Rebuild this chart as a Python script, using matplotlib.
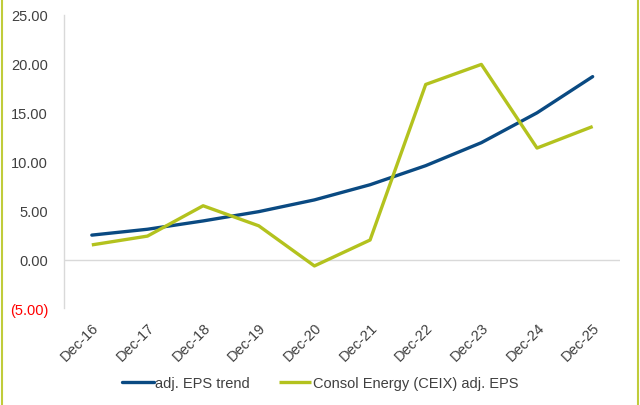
import matplotlib
matplotlib.use("Agg")
import matplotlib.pyplot as plt
from matplotlib.lines import Line2D

plt.rcParams['font.family'] = ['Liberation Sans', 'DejaVu Sans']

categories = ["Dec-16", "Dec-17", "Dec-18", "Dec-19", "Dec-20",
              "Dec-21", "Dec-22", "Dec-23", "Dec-24", "Dec-25"]
eps_trend = [2.5, 3.1, 3.95, 4.9, 6.1, 7.65, 9.6, 11.95, 15.0, 18.7]
ceix_eps = [1.5, 2.4, 5.5, 3.45, -0.65, 2.0, 17.9, 19.95, 11.4, 13.6]
yticks = [-5, 0, 5, 10, 15, 20, 25]
ytick_labels = ["(5.00)", "0.00", "5.00", "10.00", "15.00", "20.00", "25.00"]

BLUE = "#0A4A82"
GREEN = "#B3C21E"
TXT = "#404040"

fig = plt.figure(figsize=(6.4, 4.06), dpi=100)
ax = fig.add_axes([0.1, 0.2377, 0.8695, 0.7229])

x = list(range(len(categories)))
ax.plot(x, eps_trend, color=BLUE, lw=2.4, label="adj. EPS trend", solid_capstyle='round', zorder=3)
ax.plot(x, ceix_eps, color=GREEN, lw=2.4, label="Consol Energy (CEIX) adj. EPS", solid_capstyle='butt', zorder=3)

ax.axhline(0, color="#D9D9D9", lw=1.0, zorder=1)
ax.set_xlim(-0.5, len(categories) - 0.5)
ax.set_ylim(-5, 25)
ax.set_yticks(yticks)
ax.set_yticklabels(ytick_labels)
for lbl, v in zip(ax.get_yticklabels(), yticks):
    lbl.set_color("red" if v < 0 else TXT)
    lbl.set_fontsize(10.5)
ax.tick_params(axis='y', length=0, pad=11.5)
ax.set_xticks(x)
ax.set_xticklabels(categories, rotation=45, ha='right', rotation_mode='anchor',
                   fontsize=10.5, color=TXT)
ax.tick_params(axis='x', length=0, pad=8)

for s in ['top', 'right', 'bottom']:
    ax.spines[s].set_visible(False)
ax.spines['left'].set_color("#D9D9D9")
ax.spines['left'].set_linewidth(1.0)

leg = fig.legend(loc='center', bbox_to_anchor=(0.5, 0.055), ncol=2, frameon=False,
                 fontsize=10.5, handlelength=2.2, handletextpad=0.1, columnspacing=2.0)
for t in leg.get_texts():
    t.set_color(TXT)

fig.add_artist(Line2D([1.5 / 640, 1.5 / 640], [0, 1], transform=fig.transFigure, color="#C0CC3A", lw=1.5))
fig.add_artist(Line2D([638 / 640, 638 / 640], [0, 1], transform=fig.transFigure, color="#C0CC3A", lw=1.5))

fig.savefig("out.png", dpi=100)
